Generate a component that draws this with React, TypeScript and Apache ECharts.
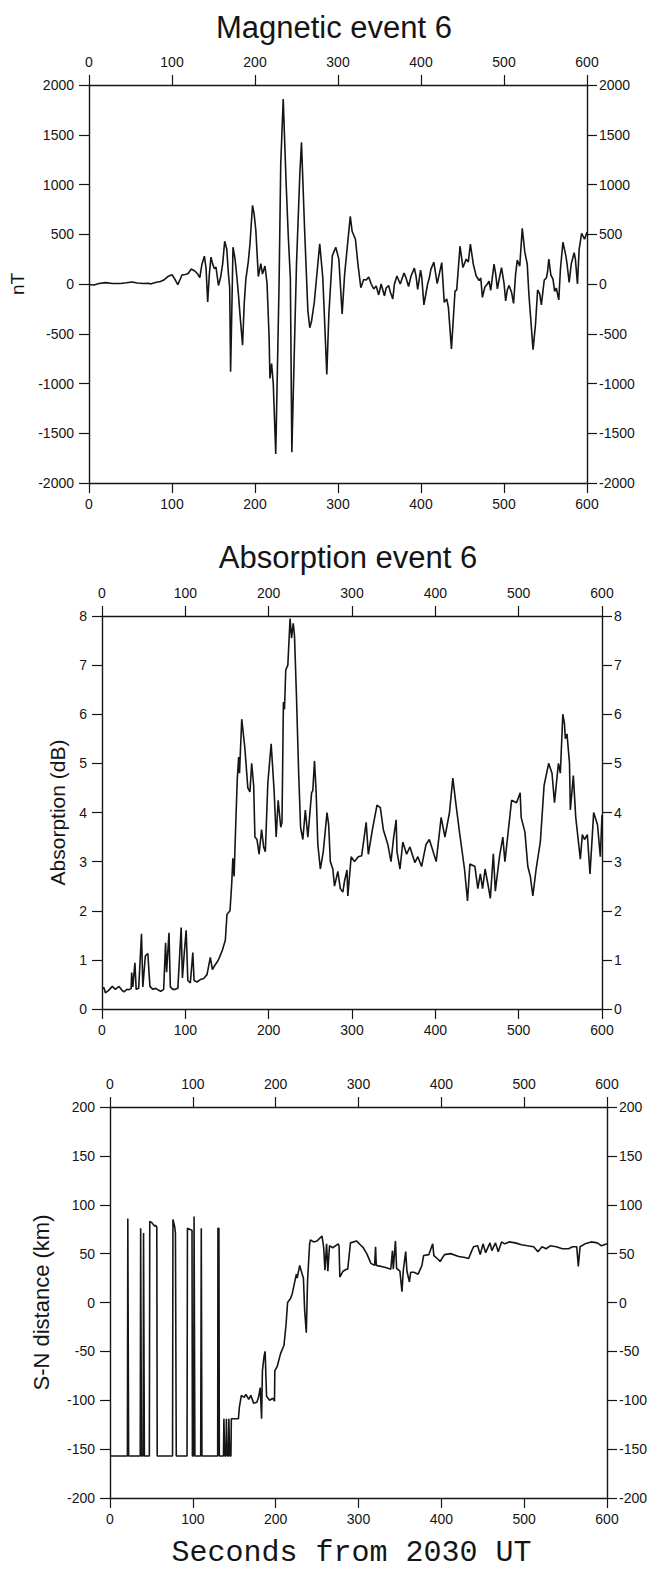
import React, { useEffect, useRef } from "react";
import * as echarts from "echarts";

// ---------- data (seconds from 2030 UT, value) ----------
const MAGNETIC_NT: [number, number][] = [
  [0, -5], [6, -10], [12, 5], [20, 14], [28, 5], [38, 5], [45, 12], [52, 20], [58, 10], [65, 5],
  [72, 8], [74, 0], [80, 15], [86, 25], [90, 40], [95, 75], [100, 94], [104, 40], [107, -7], [110, 50],
  [112, 90], [116, 95], [119.5, 105], [123, 150], [127.5, 130], [131, 100], [133.5, 65], [136, 195], [139, 280], [141, 160],
  [143, -180], [145, 100], [147, 270], [149, 200], [151, 155], [153, 170], [156, -15], [158.5, 65], [161, 200], [163.5, 430],
  [166, 350], [168, 100], [169.5, -35], [170.6, -883], [172, -300], [173.5, 370], [176, 250], [178, 85], [180, -100], [182, -315],
  [185, -615], [187, -200], [189, 50], [192, 230], [194, 410], [197, 790], [199, 700], [201, 540], [204, 75], [207, 205],
  [209, 100], [212, 180], [214.5, 10], [217, -535], [218, -950], [220, -800], [222, -1000], [225, -1708], [229, 0], [231, 1200],
  [234, 1859], [237.3, 1058], [240, 500], [242.6, 58], [244.4, -1692], [247, -800], [250, 200], [254, 1100], [256, 1424], [259.7, 560],
  [263.7, -270], [266, -440], [268, -380], [271.5, -180], [274, 50], [278, 405], [281.7, 60], [284, -400], [286.5, -910], [289, -300],
  [293.2, 285], [297.3, 370], [301, 250], [305, -300], [308, 100], [314.8, 680], [317, 530], [321, 450], [324, 200], [327.5, -37],
  [331, 46], [334, 40], [337, 70], [340, 0], [343, -50], [346, -20], [349, -110], [352, 0], [356, -120], [358, -40],
  [361, -15], [363, -80], [366, -150], [368, 0], [371, 80], [375, 0], [379.5, 110], [382, 60], [385, -25], [388, 80],
  [392, 160], [394, 80], [396, -55], [399.5, 140], [401, 60], [403.5, -210], [408, 0], [410, 60], [412, 150], [415.5, 220],
  [419.5, 5], [422, 100], [425, 215], [428, -185], [431, -150], [433, -235], [436.7, -652], [441, -70], [443, -60], [447, 380],
  [450.5, 165], [454.5, 250], [457, 220], [459.5, 400], [463, 200], [466.5, 80], [470, 35], [472, 60], [474, -135], [477, -30],
  [480, 0], [482, 30], [484, -65], [488, 200], [490, 100], [492, -50], [494, 40], [497, 165], [500, 10], [502, -170],
  [504, -60], [506, -15], [509, -80], [511.5, -195], [514, 100], [516, 240], [519, 180], [522, 560], [525, 325], [528, 200],
  [530, -105], [535, -660], [538, -400], [540.5, -60], [543, -100], [545, -210], [548.5, 40], [551, 60], [552.5, 125], [554, 250],
  [556.5, 90], [559, 50], [561, -75], [563, -40], [566, -160], [568, 150], [571, 420], [574.5, 285], [576, 200], [578.5, 15],
  [581, 200], [584.5, 315], [586, 250], [588.5, 0], [590.5, 345], [593.5, 510], [597, 450], [600, 520],
];

const ABSORPTION_DB: [number, number][] = [
  [0, 0.42], [2.5, 0.43], [4, 0.33], [8, 0.38], [12.4, 0.46], [16, 0.4], [20.4, 0.46], [24, 0.38], [26.3, 0.35], [30, 0.4],
  [32, 0.39], [35, 0.42], [35.6, 0.74], [37, 0.45], [39.5, 0.94], [41, 0.4], [44, 0.42], [47.4, 1.53], [49, 0.45], [52, 1.08],
  [55, 1.13], [57.5, 0.46], [61, 0.4], [64.5, 0.42], [68, 0.38], [70.5, 0.36], [74, 0.4], [76.3, 1.35], [77.5, 0.75], [80.4, 1.55],
  [82, 0.45], [85, 0.4], [88, 0.4], [91, 0.42], [95, 1.66], [96.5, 0.63], [99, 1.2], [101, 1.6], [103, 0.58], [106, 0.53],
  [109, 1.15], [110.5, 0.58], [114, 0.55], [118, 0.6], [122, 0.62], [126, 0.7], [130, 1.05], [132.5, 0.8], [135, 0.88], [138.4, 0.96],
  [141, 1.05], [144.5, 1.2], [148, 1.4], [150, 1.93], [153.6, 2.0], [155.7, 2.56], [157, 3.07], [158.5, 2.7], [160, 3.5], [162.3, 4.67],
  [164, 5.13], [165, 4.8], [167.7, 5.9], [171.5, 5.3], [175, 4.5], [177.5, 4.42], [179.6, 5.0], [182, 4.55], [183.5, 3.5], [186, 3.45],
  [188.5, 3.15], [191.5, 3.65], [194, 3.3], [196, 3.2], [199, 4.6], [203, 5.4], [206.5, 4.45], [209, 3.5], [211.4, 4.25], [214.5, 3.7],
  [216, 3.8], [217.7, 6.25], [219, 6.1], [220.5, 6.9], [223, 7.0], [225.7, 7.95], [227.5, 7.55], [229.5, 7.85], [231, 7.6], [233.3, 6.4],
  [236, 4.8], [238.3, 3.7], [241, 3.45], [244, 4.05], [247, 3.5], [251.5, 4.4], [253, 4.45], [255, 5.05], [257, 4.4], [259, 3.35],
  [262, 2.85], [265.5, 3.2], [270, 4.0], [272, 3.75], [274, 3.0], [277, 2.85], [279, 2.5], [283, 2.8], [286, 2.45], [289, 2.38],
  [291, 2.6], [294, 2.83], [295, 2.3], [299, 3.1], [303, 3.0], [307.5, 3.1], [311.6, 3.12], [317, 3.8], [319.6, 3.15], [325, 3.7],
  [330, 4.15], [334, 4.1], [337.6, 3.65], [343, 3.35], [346.8, 3.0], [350, 3.5], [353, 3.85], [354, 3.2], [357.6, 2.85], [361, 3.4],
  [365.5, 3.15], [369.5, 3.3], [375.4, 2.98], [379, 3.1], [383.5, 2.9], [388.8, 3.35], [392.8, 3.45], [396.5, 3.25], [401, 3.0], [407, 3.9],
  [411.5, 3.5], [417, 4.0], [421, 4.7], [424.5, 4.2], [429, 3.6], [435, 2.85], [438.6, 2.2], [441.5, 2.95], [447.5, 2.9], [451, 2.45],
  [454, 2.75], [456.7, 2.45], [459.7, 2.85], [463, 2.55], [466, 2.25], [469.6, 3.16], [472, 2.4], [477, 3.1], [481, 3.5], [483.5, 3.0],
  [487.7, 3.65], [491.5, 4.25], [497.5, 4.2], [501.8, 4.4], [503, 3.9], [507.5, 3.6], [511, 2.9], [514, 2.7], [517, 2.3], [521, 2.85],
  [526, 3.4], [530.5, 4.55], [536, 5.0], [540, 4.8], [543, 4.2], [547.7, 5.0], [550, 4.8], [553, 6.0], [555, 5.8], [556, 5.5],
  [558, 5.6], [561, 5.0], [562, 4.05], [565.6, 4.75], [568.5, 3.9], [574, 3.05], [576.4, 3.55], [579, 3.45], [582.4, 3.55], [585.6, 2.75],
  [590, 4.0], [594.6, 3.75], [598, 3.1], [600, 3.95],
];

const SN_DISTANCE_KM: [number, number][] = [
  [0, -157], [21, -157], [21.5, 86], [22.5, -157], [36.5, -157], [37, 76], [38, -157], [40, -157], [40.5, 71], [41.5, -157],
  [47.5, -157], [48, 83], [50, 82], [52, 80], [54, 78], [55, 79], [56.5, 77], [57, -157], [75.5, -157], [76, 85],
  [78, 78], [79, 71], [80, -157], [93, -157], [93.5, 76], [96, 75], [99, 74], [99.5, -157], [101, -157], [101.5, 88],
  [102.5, -157], [109.5, -157], [110.2, 76], [111, -157], [130, -157], [130.3, 76], [131.5, 76], [132, -157], [137, -157], [137.5, -119],
  [138.5, -157], [140, -157], [140.5, -119], [141.5, -157], [143, -157], [143.5, -119], [144.5, -157], [146, -157], [146.5, -119], [155, -119],
  [156.2, -107], [158.6, -95], [162, -97], [164, -94], [167.5, -99], [170, -95], [173.4, -103], [177.3, -102], [179.3, -97], [181.4, -87],
  [183, -119], [184, -70], [186, -55], [187.3, -50], [189, -96], [192.7, -100], [196.6, -98], [198.6, -101], [199, -70], [202, -65],
  [206, -52], [210, -44], [212.5, -23], [214.4, 0], [218, 4], [220, 9], [222, 17], [225, 29], [226, 25], [229, 38],
  [231.7, 30], [233.5, 25], [235, -8], [237, -31], [238.5, 22], [241, 60], [242, 64], [246, 62], [250, 63], [256, 68],
  [258, 56], [259.5, 33], [261.5, 60], [263, 32], [265, 58], [269, 56], [275.5, 60], [276.5, 58], [277.5, 26], [281.4, 32],
  [285.4, 34], [287, 34], [290.3, 61], [297.5, 63], [303.4, 58], [305, 57], [310, 50], [315, 40], [319.5, 38], [320.6, 57],
  [321.5, 38], [331.8, 36], [339, 34], [341, 53], [342, 34], [344.6, 63], [346, 35], [350, 32], [352.5, 11], [354, 32],
  [357, 52], [358.5, 32], [361.5, 21], [363, 31], [367, 31], [372, 29], [376.6, 38], [378.6, 48], [385, 49], [389.6, 60],
  [391, 48], [396.4, 44], [398.5, 42], [403.8, 49], [411.2, 50], [421, 47], [428.5, 46], [433, 45], [436.3, 52], [438.9, 57],
  [443.8, 58], [447, 49], [450.3, 60], [453.5, 51], [458.8, 61], [461, 53], [465.4, 61], [468.7, 52], [472.7, 62], [476.5, 60],
  [482, 62], [489.3, 61], [496.7, 59], [504, 58], [511.5, 57], [516.6, 52], [521.6, 57], [526.5, 55], [531.5, 58], [538.8, 57],
  [546.2, 55], [553.6, 55], [558.5, 57], [563.5, 57], [565.4, 37], [567.5, 57], [573.5, 60], [581, 62], [588.4, 61], [593.3, 58],
  [600, 60],
];

// axis ranges [min, max, interval]
const X_RANGE = [0, 600, 100];
const MAG_RANGE = [-2000, 2000, 500];
const ABS_RANGE = [0, 8, 1];
const SN_RANGE = [-200, 200, 50];

const TITLES = ["Magnetic event 6", "Absorption event 6"];
const Y_NAMES = ["nT", "Absorption (dB)", "S-N distance (km)"];
const X_NAME = "Seconds from 2030 UT";

const INK = "#151515";
const SANS = "'Liberation Sans', Arial, Helvetica, sans-serif";
const MONO = "'Courier New', 'Liberation Mono', monospace";

// grid geometry per panel
const GRIDS = [
  { left: 89, top: 85, width: 498, height: 398 },
  { left: 102, top: 616, width: 500, height: 393 },
  { left: 110, top: 1107, width: 498, height: 396 },
];

const fmt = (v: number) => String(v);

function baseAxis(gridIndex: number) {
  return {
    gridIndex,
    type: "value",
    axisLine: { show: true, onZero: false, lineStyle: { color: INK, width: 1.4 } },
    axisTick: { show: true, inside: false, length: 10, lineStyle: { color: INK, width: 1.2 } },
    axisLabel: { color: INK, fontSize: 14, fontFamily: SANS, formatter: fmt, showMinLabel: true, showMaxLabel: true },
    splitLine: { show: false },
  };
}

export default function App() {
  const ref = useRef<HTMLDivElement>(null);

  useEffect(() => {
    if (!ref.current) return;
    const chart = echarts.init(ref.current, undefined, { renderer: "svg" });

    const yRanges = [MAG_RANGE, ABS_RANGE, SN_RANGE];
    const yGaps = [58, 33, 58];
    const yNameSizes = [19, 21, 22];
    const seriesData = [MAGNETIC_NT, ABSORPTION_DB, SN_DISTANCE_KM];

    const xAxis: any[] = [];
    const yAxis: any[] = [];
    const series: any[] = [];

    for (let i = 0; i < 3; i++) {
      const bottom: any = {
        ...baseAxis(i),
        position: "bottom",
        min: X_RANGE[0],
        max: X_RANGE[1],
        interval: X_RANGE[2],
      };
      bottom.axisLabel = { ...bottom.axisLabel, margin: 14 };
      if (i === 2) {
        bottom.name = X_NAME;
        bottom.nameLocation = "middle";
        bottom.nameGap = 40;
        bottom.nameTextStyle = {
          color: INK,
          fontFamily: MONO,
          fontSize: 30,
          fontWeight: "normal",
          padding: [0, 14, 0, 0],
        };
      }
      const top: any = {
        ...baseAxis(i),
        position: "top",
        min: X_RANGE[0],
        max: X_RANGE[1],
        interval: X_RANGE[2],
      };
      top.axisLabel = { ...top.axisLabel, margin: 16 };
      xAxis.push(bottom, top);

      const r = yRanges[i];
      const left: any = {
        ...baseAxis(i),
        position: "left",
        min: r[0],
        max: r[1],
        interval: r[2],
        name: Y_NAMES[i],
        nameLocation: "middle",
        nameGap: yGaps[i],
        nameTextStyle: { color: INK, fontFamily: SANS, fontSize: yNameSizes[i] },
      };
      left.axisLabel = { ...left.axisLabel, margin: 15 };
      const right: any = {
        ...baseAxis(i),
        position: "right",
        min: r[0],
        max: r[1],
        interval: r[2],
      };
      right.axisLabel = { ...right.axisLabel, margin: 12 };
      yAxis.push(left, right);

      series.push({
        type: "line",
        xAxisIndex: 2 * i,
        yAxisIndex: 2 * i,
        data: seriesData[i],
        showSymbol: false,
        symbol: "none",
        smooth: false,
        clip: true,
        lineStyle: { color: INK, width: 1.6 },
      });
    }

    chart.setOption({
      animation: false,
      backgroundColor: "#ffffff",
      grid: GRIDS.map((g) => ({ ...g, containLabel: false })),
      xAxis,
      yAxis,
      series,
      graphic: [
        {
          type: "text",
          x: 334,
          y: 27,
          style: {
            text: TITLES[0],
            fill: INK,
            font: `31px ${SANS}`,
            textAlign: "center",
            textVerticalAlign: "middle",
          },
        },
        {
          type: "text",
          x: 348,
          y: 557,
          style: {
            text: TITLES[1],
            fill: INK,
            font: `31px ${SANS}`,
            textAlign: "center",
            textVerticalAlign: "middle",
          },
        },
      ],
    });

    return () => chart.dispose();
  }, []);

  return (
    <div
      ref={ref}
      style={{ position: "absolute", left: 0, top: 0, width: 650, height: 1569, background: "#fff" }}
    />
  );
}
